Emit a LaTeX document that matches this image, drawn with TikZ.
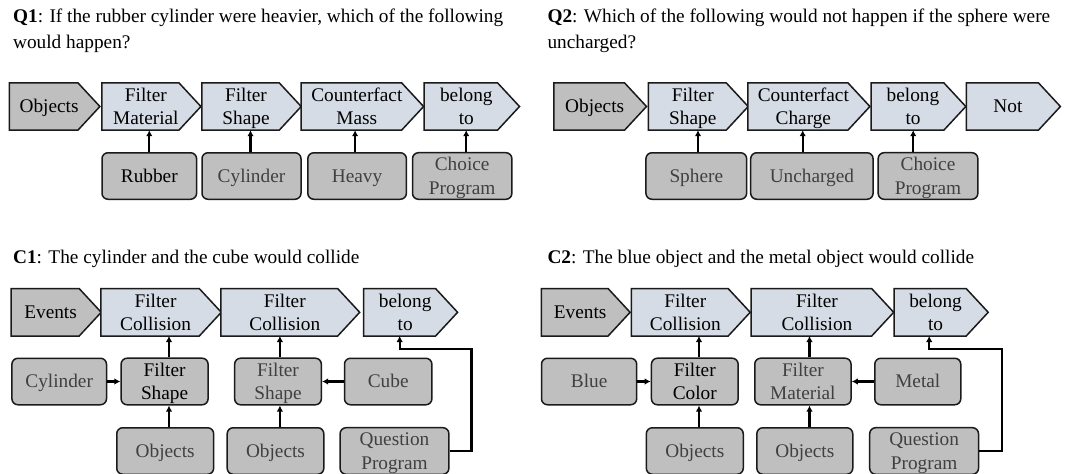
\documentclass[tikz,border=0pt]{standalone}
\usepackage{fontspec}
\setmainfont{Liberation Serif}
\usetikzlibrary{arrows.meta,backgrounds}

\definecolor{sigblue}{HTML}{D6DCE5}
\definecolor{boxgray}{HTML}{BFBFBF}
\definecolor{txtgray}{HTML}{404040}
\definecolor{edgecol}{HTML}{1A1A1A}

% uniform line box so every label line sits at the same height
\newcommand{\lline}[1]{\rule[-5.3pt]{0pt}{23.3pt}#1}

\tikzset{
  lbl/.style={font=\fontsize{19.3}{23.3}\selectfont, align=center, inner sep=0pt},
  sigbody/.style={lbl, minimum height=47pt},
  sigshape/.style={draw=edgecol, line width=1.5pt, line join=miter},
  rbox/.style={lbl, draw=edgecol, fill=boxgray, line width=1.5pt, rounded corners=6pt, minimum height=46.5pt},
  conn/.style={draw=black, line width=2.2pt, -{Latex[length=6pt,width=6.5pt]}},
  caption/.style={font=\fontsize{19.3}{23.3}\selectfont, anchor=base west, inner sep=0pt},
}

% pentagon-shaped step: fill, text colour, name, left x, tip x, centre y, label
\newcommand{\sigbox}[7]{%
  \node[sigbody, text=#2, minimum width={(#5-#4-11)*1pt}] (#3) at ({(#4+#5-11)/2}, #6) {#7};
  \begin{scope}[on background layer]
    \path[sigshape, fill=#1] (#3.north west) -- ([xshift=-11pt]#3.north east)
      -- ([xshift=11pt]#3.east) -- ([xshift=-11pt]#3.south east)
      -- (#3.south west) -- cycle;
  \end{scope}
}

\begin{document}
\begin{tikzpicture}[x=1pt, y=-1pt]
\useasboundingbox (0,0) rectangle (1066,474);

% ---------------- Q1 ----------------
\node[caption] (q1t1) at (12.9,22.7) {\textbf{Q1}: If the rubber cylinder were heavier, which of the following};
\node[caption] (q1t2) at (12.9,48.3) {would happen?};

\sigbox{boxgray}{black}{q1obj}{9.5}{99.7}{106.5}{\lline{Objects}}
\sigbox{sigblue}{black}{q1fm}{102}{200.7}{106.5}{\lline{Filter}\\\lline{Material}}
\sigbox{sigblue}{black}{q1fs}{202}{301}{106.5}{\lline{Filter}\\\lline{Shape}}
\sigbox{sigblue}{black}{q1cm}{301.3}{423.4}{106.5}{\lline{Counterfact}\\\lline{Mass}}
\sigbox{sigblue}{black}{q1bt}{424.4}{519.3}{106.5}{\lline{belong}\\\lline{to}}

\node[rbox, text=black, minimum width=94.6pt] (q1rub) at (149.3,176) {\lline{Rubber}};
\node[rbox, text=txtgray, minimum width=99pt] (q1cyl) at (251.5,176) {\lline{Cylinder}};
\node[rbox, text=txtgray, minimum width=98.6pt] (q1hvy) at (357.1,176) {\lline{Heavy}};
\node[rbox, text=txtgray, minimum width=99.4pt] (q1cp) at (462.2,176) {\lline{Choice}\\\lline{Program}};

\draw[conn] (q1rub.north) -- (q1rub.north |- q1fm.south);
\draw[conn] ([xshift=-1pt]q1cyl.north) -- ([xshift=-1pt]q1cyl.north |- q1fs.south);
\draw[conn] ([xshift=-2pt]q1hvy.north) -- ([xshift=-2pt]q1hvy.north |- q1cm.south);
\draw[conn] ([xshift=4pt]q1cp.north) -- ([xshift=4pt]q1cp.north |- q1bt.south);

% ---------------- Q2 ----------------
\node[caption] (q2t1) at (547.3,22.7) {\textbf{Q2}: Which of the following would not happen if the sphere were};
\node[caption] (q2t2) at (547.3,48.3) {uncharged?};

\sigbox{boxgray}{black}{q2obj}{554.1}{646.3}{106.5}{\lline{Objects}}
\sigbox{sigblue}{black}{q2fs}{648.6}{748}{106.5}{\lline{Filter}\\\lline{Shape}}
\sigbox{sigblue}{black}{q2cc}{748}{869.7}{106.5}{\lline{Counterfact}\\\lline{Charge}}
\sigbox{sigblue}{black}{q2bt}{871.4}{965.6}{106.5}{\lline{belong}\\\lline{to}}
\sigbox{sigblue}{black}{q2not}{966.6}{1060.2}{106.5}{\lline{Not}}

\node[rbox, text=txtgray, minimum width=100.7pt] (q2sph) at (696.3,176) {\lline{Sphere}};
\node[rbox, text=txtgray, minimum width=122.4pt] (q2unc) at (811.9,176) {\lline{Uncharged}};
\node[rbox, text=txtgray, minimum width=99.7pt] (q2cp) at (928,176) {\lline{Choice}\\\lline{Program}};

\draw[conn] ([xshift=1.7pt]q2sph.north) -- ([xshift=1.7pt]q2sph.north |- q2fs.south);
\draw[conn] ([xshift=-9.2pt]q2unc.north) -- ([xshift=-9.2pt]q2unc.north |- q2cc.south);
\draw[conn] ([xshift=-14.8pt]q2cp.north) -- ([xshift=-14.8pt]q2cp.north |- q2bt.south);

% ---------------- C1 ----------------
\node[caption] (c1t) at (12.9,263.7) {\textbf{C1}: The cylinder and the cube would collide};

\sigbox{boxgray}{black}{c1ev}{11.2}{101}{312.3}{\lline{Events}}
\sigbox{sigblue}{black}{c1fc1}{101}{221.1}{312.3}{\lline{Filter}\\\lline{Collision}}
\sigbox{sigblue}{black}{c1fc2}{221.1}{359.5}{312.3}{\lline{Filter}\\\lline{Collision}}
\sigbox{sigblue}{black}{c1bt}{363.9}{457.4}{312.3}{\lline{belong}\\\lline{to}}

\node[rbox, text=txtgray, minimum width=94.6pt] (c1cyl) at (59.2,381.5) {\lline{Cylinder}};
\node[rbox, text=black, minimum width=87pt] (c1fs1) at (164.6,381.5) {\lline{Filter}\\\lline{Shape}};
\node[rbox, text=txtgray, minimum width=86.7pt] (c1fs2) at (278,381.5) {\lline{Filter}\\\lline{Shape}};
\node[rbox, text=txtgray, minimum width=87.4pt] (c1cube) at (388.2,381.5) {\lline{Cube}};

\node[rbox, text=txtgray, minimum width=96.9pt] (c1ob1) at (165.2,451) {\lline{Objects}};
\node[rbox, text=txtgray, minimum width=96.6pt] (c1ob2) at (275.5,451) {\lline{Objects}};
\node[rbox, text=txtgray, minimum width=108.8pt] (c1qp) at (394.5,451) {\lline{Question}\\\lline{Program}};

\coordinate (c1turn) at (471.5,348.7);

\draw[conn] (c1cyl.east) -- (c1fs1.west);
\draw[conn] (c1cube.west) -- (c1fs2.east);
\draw[conn] ([xshift=4.4pt]c1fs1.north) -- ([xshift=4.4pt]c1fs1.north |- c1fc1.south);
\draw[conn] ([xshift=3.8pt]c1ob1.north) -- ([xshift=3.8pt]c1ob1.north |- c1fs1.south);
\draw[conn] ([xshift=1.9pt]c1fs2.north) -- ([xshift=1.9pt]c1fs2.north |- c1fc2.south);
\draw[conn] ([xshift=4.4pt]c1ob2.north) -- ([xshift=4.4pt]c1ob2.north |- c1fs2.south);
\draw[conn, line join=miter] (c1qp.east) -| (c1turn) -| ([xshift=-5.5pt]c1bt.south);

% ---------------- C2 ----------------
\node[caption] (c2t) at (547.3,263.7) {\textbf{C2}: The blue object and the metal object would collide};

\sigbox{boxgray}{black}{c2ev}{541.5}{629.9}{312.3}{\lline{Events}}
\sigbox{sigblue}{black}{c2fc1}{631.6}{750}{312.3}{\lline{Filter}\\\lline{Collision}}
\sigbox{sigblue}{black}{c2fc2}{751.3}{893.5}{312.3}{\lline{Filter}\\\lline{Collision}}
\sigbox{sigblue}{black}{c2bt}{894.2}{988}{312.3}{\lline{belong}\\\lline{to}}

\node[rbox, text=txtgray, minimum width=95.2pt] (c2blue) at (589.1,381.5) {\lline{Blue}};
\node[rbox, text=black, minimum width=86.7pt] (c2fcol) at (694.8,381.5) {\lline{Filter}\\\lline{Color}};
\node[rbox, text=txtgray, minimum width=96.3pt] (c2fmat) at (802.9,381.5) {\lline{Filter}\\\lline{Material}};
\node[rbox, text=txtgray, minimum width=86pt] (c2metal) at (917.8,381.5) {\lline{Metal}};

\node[rbox, text=txtgray, minimum width=96.9pt] (c2ob1) at (694.8,451) {\lline{Objects}};
\node[rbox, text=txtgray, minimum width=95.9pt] (c2ob2) at (804.8,451) {\lline{Objects}};
\node[rbox, text=txtgray, minimum width=108.8pt] (c2qp) at (924.1,451) {\lline{Question}\\\lline{Program}};

\coordinate (c2turn) at (1002.3,348.7);

\draw[conn] (c2blue.east) -- (c2fcol.west);
\draw[conn] (c2metal.west) -- (c2fmat.east);
\draw[conn] ([xshift=4.2pt]c2fcol.north) -- ([xshift=4.2pt]c2fcol.north |- c2fc1.south);
\draw[conn] ([xshift=4.2pt]c2ob1.north) -- ([xshift=4.2pt]c2ob1.north |- c2fcol.south);
\draw[conn] ([xshift=6.6pt]c2fmat.north) -- ([xshift=6.6pt]c2fmat.north |- c2fc2.south);
\draw[conn] ([xshift=4.7pt]c2ob2.north) -- ([xshift=4.7pt]c2ob2.north |- c2fmat.south);
\draw[conn, line join=miter] (c2qp.east) -| (c2turn) -| ([xshift=-6.4pt]c2bt.south);
\end{tikzpicture}
\end{document}
